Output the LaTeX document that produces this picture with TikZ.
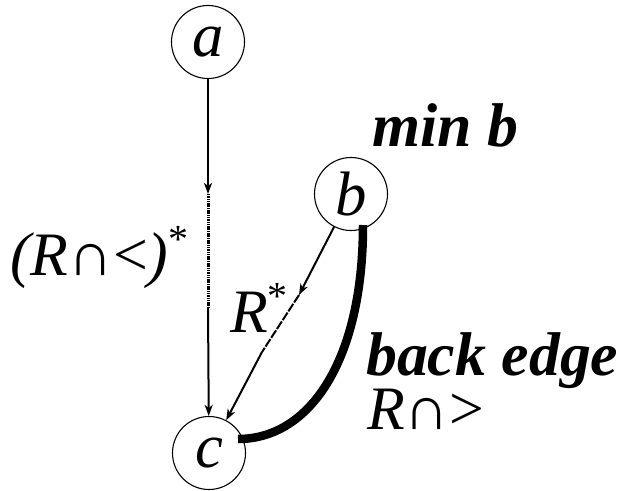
\documentclass[tikz,border=0pt]{standalone}
\usepackage{fontspec}
\setmainfont{Liberation Serif}
\usetikzlibrary{arrows.meta}
\tikzset{
  vertex/.style={circle, draw, line width=1.1bp, minimum size=73bp, inner sep=0pt, font=\fontsize{63}{63}\selectfont\itshape},
  lbl/.style={anchor=base west, inner sep=0pt, font=\fontsize{62}{62}\selectfont},
  arr/.style={line width=2bp, -{Stealth[length=11bp, width=8bp, inset=3bp]}},
  fine/.style={line width=3bp, dash pattern=on 1.5bp off 0.8bp},
  finediag/.style={line width=2bp, dash pattern=on 9bp off 1.5bp},
  backedge/.style={line width=8.5bp, line cap=butt}
}
\begin{document}
\begin{tikzpicture}[x=1bp, y=-1bp]
\useasboundingbox (0,0) rectangle (625,491);
\node[vertex] (a) at (208,42) {a};
\node[vertex] (b) at (351,194) {b};
\node[vertex] (c) at (209,453) {c};
% a to c
\coordinate (m1) at (208,194);
\coordinate (m2) at (208,307);
\draw[arr] (a) -- (m1);
\draw[fine] (m1) -- (m2);
\draw[arr] (m2) -- (c);
% b to c
\coordinate (n1) at (299,295);
\coordinate (n2) at (262,352);
\draw[arr] (b) -- (n1);
\draw[finediag] (n1) -- (n2);
\draw[arr] (n2) -- (c);
% back edge
\coordinate (be1) at (363,225);
\coordinate (be2) at (238,439);
\draw[backedge] (be1) .. controls (363,360) and (310,439) .. (be2);
% labels
\node[lbl] (l1) at (10,275) {\textit{(R}∩<\textit{)}\raisebox{0.36em}{\fontsize{40}{40}\selectfont *}};
\node[lbl] (l2) at (230,332) {\textit{R}\raisebox{0.36em}{\fontsize{40}{40}\selectfont *}};
\node[lbl] (l3) at (372,147) {\bfseries\itshape min b};
\node[lbl] (l4) at (366,375) {\bfseries\itshape back edge};
\node[lbl] (l5) at (367,429) {\textit{R}∩>};
\end{tikzpicture}
\end{document}
